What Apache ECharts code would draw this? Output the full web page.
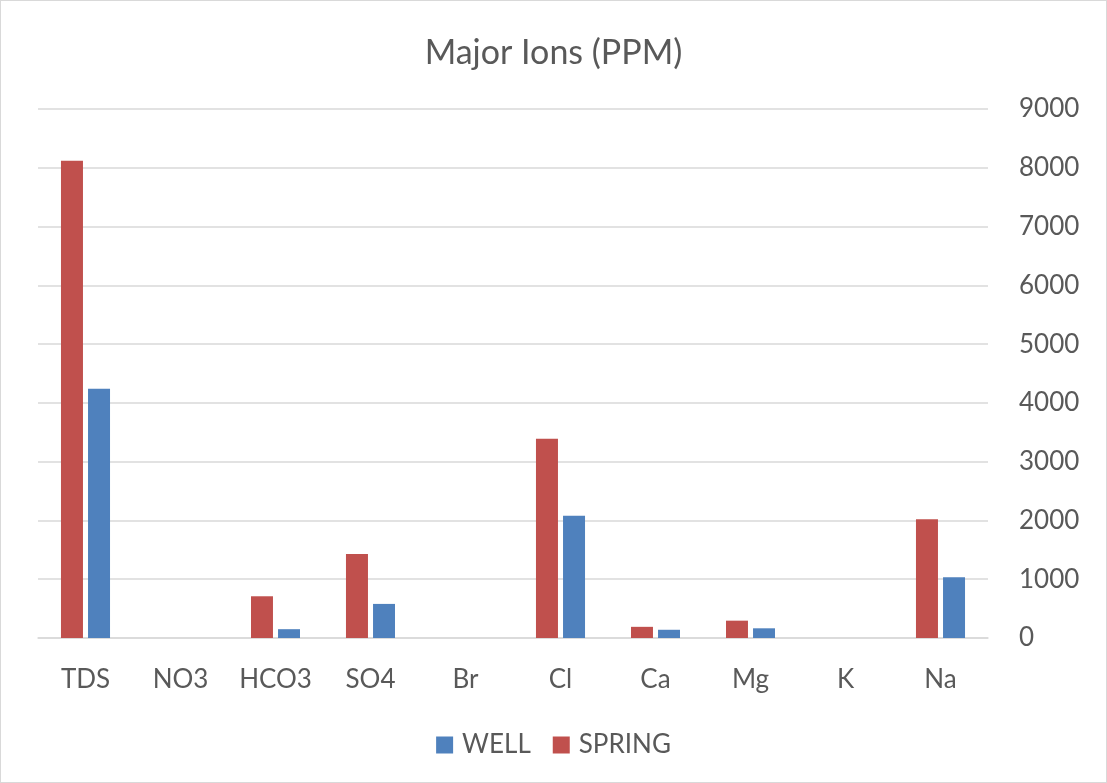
<!DOCTYPE html>
<html>
<head>
<meta charset="utf-8">
<script src="https://cdn.jsdelivr.net/npm/echarts@6/dist/echarts.min.js"></script>
<style>
html,body{margin:0;padding:0;background:#fff;}
#c{width:1107px;height:783px;box-sizing:border-box;border:1px solid #d9d9d9;}
</style>
</head>
<body>
<div id="c"></div>
<script>
const categories = ['TDS','NO3','HCO3','SO4','Br','Cl','Ca','Mg','K','Na'];
const springValues = [8120, 0, 710, 1430, 0, 3390, 190, 295, 0, 2020];
const wellValues = [4240, 0, 150, 580, 0, 2080, 140, 165, 0, 1035];
const yTicks = {min: 0, max: 9000, interval: 1000};

const chart = echarts.init(document.getElementById('c'));
const font = 'Lato, "Open Sans", sans-serif';
chart.setOption({
  animation: false,
  title: {
    text: 'Major Ions (PPM)',
    left: 'center',
    top: 30,
    textStyle: {fontFamily: font, fontSize: 34, fontWeight: 'normal', color: '#595959'}
  },
  legend: {
    data: ['WELL', 'SPRING'],
    bottom: 19,
    left: 'center',
    itemWidth: 17,
    itemHeight: 17,
    itemGap: 22,
    icon: 'rect',
    textStyle: {fontFamily: font, fontSize: 26, color: '#595959', padding: [0, 0, 0, 4]}
  },
  grid: {left: 37, right: 118, top: 108, bottom: 144, containLabel: false},
  xAxis: {
    type: 'category',
    data: categories,
    axisLine: {show: true, lineStyle: {color: '#d9d9d9', width: 1.5}},
    axisTick: {show: false},
    axisLabel: {fontFamily: font, fontSize: 26, color: '#595959', margin: 29}
  },
  yAxis: {
    type: 'value',
    position: 'right',
    min: yTicks.min, max: yTicks.max, interval: yTicks.interval,
    axisLine: {show: false},
    axisTick: {show: false},
    splitLine: {lineStyle: {color: '#d9d9d9', width: 1.5}},
    axisLabel: {fontFamily: font, fontSize: 26, color: '#595959', margin: 31,
                formatter: function (v) { return String(v); }}
  },
  series: [
    {name: 'SPRING', type: 'bar', data: springValues, barWidth: 22, barGap: '23%',
     itemStyle: {color: '#C0504D'}},
    {name: 'WELL', type: 'bar', data: wellValues, barWidth: 22, barGap: '23%',
     itemStyle: {color: '#4F81BD'}}
  ]
});
</script>
</body>
</html>
